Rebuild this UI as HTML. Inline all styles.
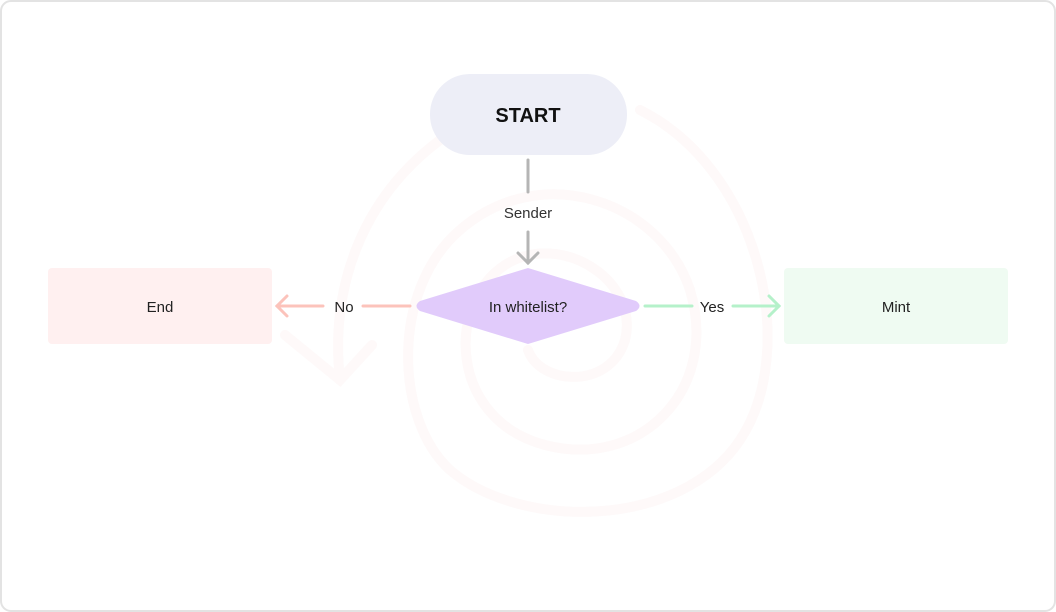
<!DOCTYPE html>
<html><head><style>
html,body{margin:0;padding:0;background:#fff;}
body{width:1056px;height:612px;position:relative;overflow:hidden;font-family:"Liberation Sans",sans-serif;}
</style></head><body>
<svg width="1056" height="612" style="position:absolute;left:0;top:0">
<rect x="1" y="1" width="1054" height="610" rx="10" fill="#fff" stroke="#e3e3e3" stroke-width="2"/>
<g fill="none" stroke="#fef9f9" stroke-width="10" stroke-linecap="round">
<path d="M528 350 C 540 385, 610 390, 625 340 C 640 280, 560 230, 505 265 C 445 305, 450 420, 545 445 C 640 470, 720 390, 690 290 C 660 200, 540 160, 460 230 C 390 290, 395 420, 450 470 C 520 530, 680 530, 740 440 C 800 350, 760 170, 640 110"/>
<path d="M440 140 C 360 200, 330 290, 340 380"/>
<path d="M285 335 L 340 380 L 372 345"/>
</g>
<rect x="430" y="74" width="197" height="81" rx="40" fill="#edeef7"/>
<text x="528" y="122" text-anchor="middle" font-size="20" font-weight="bold" fill="#111">START</text>
<g stroke="#b5b5b5" stroke-width="3" fill="none" stroke-linecap="round">
<line x1="528" y1="160" x2="528" y2="192"/>
<line x1="528" y1="232" x2="528" y2="263"/>
<path d="M518 253 L528 263 L538 253"/>
</g>
<text x="528" y="218" text-anchor="middle" font-size="15" fill="#333">Sender</text>
<path d="M528 268 L636 301 Q643 306 636 311 L528 344 L420 311 Q413 306 420 301 Z" fill="#e1cbfb"/>
<text x="528" y="312" text-anchor="middle" font-size="15" fill="#222">In whitelist?</text>
<rect x="48" y="268" width="224" height="76" rx="4" fill="#fff0f0"/>
<text x="160" y="312" text-anchor="middle" font-size="15" fill="#222">End</text>
<rect x="784" y="268" width="224" height="76" rx="4" fill="#effbf2"/>
<text x="896" y="312" text-anchor="middle" font-size="15" fill="#222">Mint</text>
<g stroke="#fcc3bb" stroke-width="3" fill="none" stroke-linecap="round">
<line x1="363" y1="306" x2="410" y2="306"/>
<line x1="277" y1="306" x2="323" y2="306"/>
<path d="M287 296 L277 306 L287 316"/>
</g>
<text x="344" y="312" text-anchor="middle" font-size="15" fill="#222">No</text>
<g stroke="#b5f1ca" stroke-width="3" fill="none" stroke-linecap="round">
<line x1="645" y1="306" x2="692" y2="306"/>
<line x1="733" y1="306" x2="779" y2="306"/>
<path d="M769 296 L779 306 L769 316"/>
</g>
<text x="712" y="312" text-anchor="middle" font-size="15" fill="#222">Yes</text>
</svg>
</body></html>
